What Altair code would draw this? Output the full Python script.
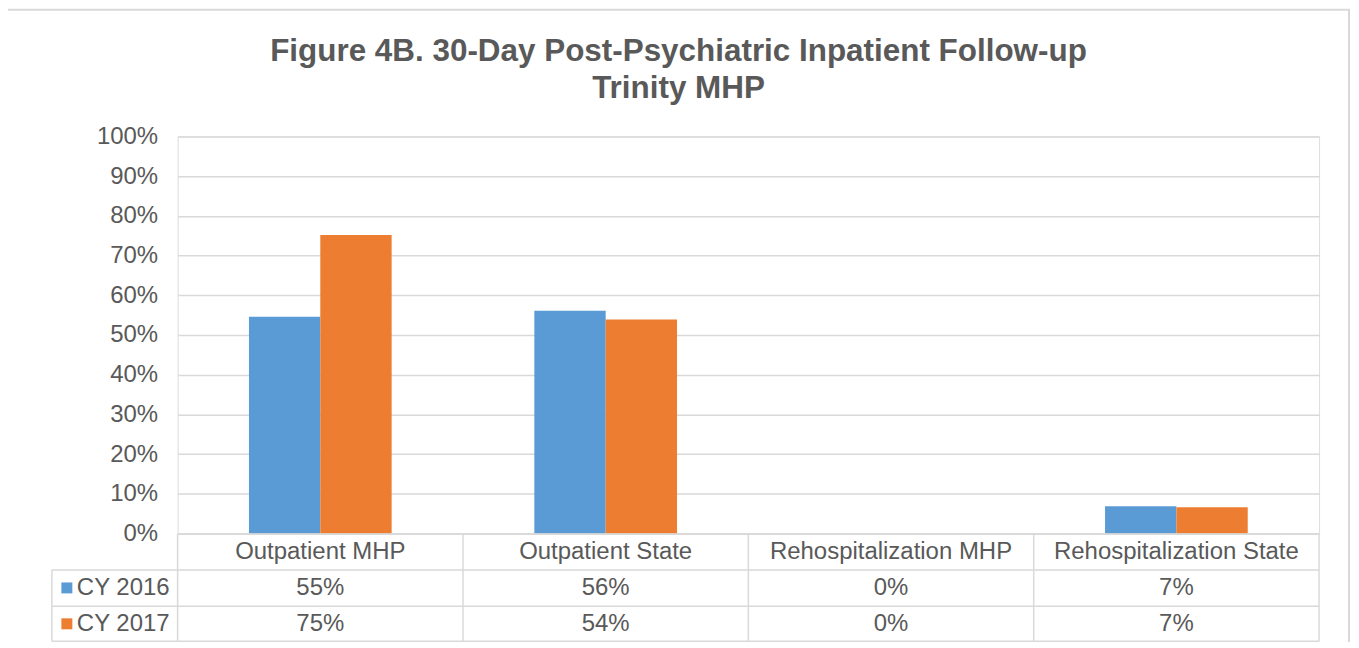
import altair as alt
import pandas as pd

# ---- data ----
categories = ["Outpatient MHP", "Outpatient State", "Rehospitalization MHP", "Rehospitalization State"]
series_names = ["CY 2016", "CY 2017"]
cy2016 = [0.546, 0.561, 0.0, 0.069]
cy2017 = [0.752, 0.539, 0.0, 0.066]
y_ticks = [0.0, 0.1, 0.2, 0.3, 0.4, 0.5, 0.6, 0.7, 0.8, 0.9, 1.0]
title_lines = ["Figure 4B. 30-Day Post-Psychiatric Inpatient Follow-up", "Trinity MHP"]
colors = ["#5b9bd5", "#ed7d31"]

rows = []
for s, vals in zip(series_names, [cy2016, cy2017]):
    for c, v in zip(categories, vals):
        rows.append({"category": c, "series": s, "value": v})
df = pd.DataFrame(rows)

# ---- layout constants (pixels, relative to plot area) ----
W, H = 1144, 398
STEP = W / 4
TXT = "#595959"
LINE = "#d9d9d9"
FONT = "Liberation Sans"
FS = 24
row_top = [H + 0.5, H + 36.5, H + 73, H + 108]
row_mid = [H + 18.5, H + 54.5, H + 90.5]
left_col = -126

x_enc = alt.X("category:N", sort=categories,
              scale=alt.Scale(paddingInner=0.5, paddingOuter=0.25), axis=None)
color_enc = alt.Color("series:N", scale=alt.Scale(domain=series_names, range=colors), legend=None)

base = alt.Chart(df)

bars = base.mark_bar().encode(
    x=x_enc,
    xOffset=alt.XOffset("series:N", sort=series_names, scale=alt.Scale(paddingInner=0, paddingOuter=0)),
    y=alt.Y("value:Q", scale=alt.Scale(domain=[0, 1], nice=False, zero=True),
            axis=alt.Axis(values=y_ticks, format=".0%", title=None, domain=False, ticks=False,
                          labelFontSize=FS, labelColor=TXT, labelPadding=20, labelFont=FONT,
                          gridColor=LINE, gridWidth=1.5)),
    color=color_enc,
)

layers = [bars]

# table grid lines
hlines = [(0, W, row_top[0])] + [(left_col, W, y) for y in row_top[1:]]
for x1, x2, y in hlines:
    layers.append(alt.Chart(alt.Data(values=[{}])).mark_rule(color=LINE, strokeWidth=1.5).encode(
        x=alt.value(x1), x2=alt.value(x2), y=alt.value(y)))
vlines = [(i * STEP, row_top[0], row_top[3]) for i in range(5)] + [(left_col, row_top[1], row_top[3])]
for x, y1, y2 in vlines:
    layers.append(alt.Chart(alt.Data(values=[{}])).mark_rule(color=LINE, strokeWidth=1.5).encode(
        x=alt.value(x), y=alt.value(y1), y2=alt.value(y2)))

# header row: category names
layers.append(base.transform_filter(alt.datum.series == series_names[0]).mark_text(
    fontSize=FS, color=TXT, font=FONT, baseline="middle").encode(
    x=x_enc, y=alt.value(row_mid[0]), text="category:N"))

# value rows + legend keys
for i, s in enumerate(series_names):
    sub = base.transform_filter(alt.datum.series == s)
    layers.append(sub.mark_text(fontSize=FS, color=TXT, font=FONT, baseline="middle").encode(
        x=x_enc, y=alt.value(row_mid[i + 1]), text=alt.Text("value:Q", format=".0%")))
    key = sub.transform_filter(alt.datum.category == categories[0])
    layers.append(key.mark_square(size=121, opacity=1).encode(
        x=alt.value(-111), y=alt.value(row_mid[i + 1]), color=color_enc))
    layers.append(key.mark_text(fontSize=FS, color=TXT, font=FONT, baseline="middle", align="left").encode(
        x=alt.value(-101), y=alt.value(row_mid[i + 1]), text="series:N"))

# title
for j, t in enumerate(title_lines):
    layers.append(alt.Chart(alt.Data(values=[{"t": t}])).mark_text(
        fontSize=31.5, fontWeight="bold", color=TXT, font=FONT, align="center", baseline="alphabetic").encode(
        x=alt.value(502), y=alt.value([-76, -39][j]), text="t:N"))

# outer frame
layers.append(alt.Chart(alt.Data(values=[{}])).mark_rect(filled=False, stroke=LINE, strokeWidth=2).encode(
    x=alt.value(-171), x2=alt.value(1174), y=alt.value(-127), y2=alt.value(H + 140)))

chart = alt.layer(*layers).properties(
    width=W, height=H,
    autosize=alt.AutoSizeParams(type="none"),
    padding={"left": 170, "top": 128, "right": 32, "bottom": 108},
).configure_view(strokeWidth=0).configure(font=FONT, background="white")

chart.save("out.html", embed_options={"renderer": "svg", "actions": False})
